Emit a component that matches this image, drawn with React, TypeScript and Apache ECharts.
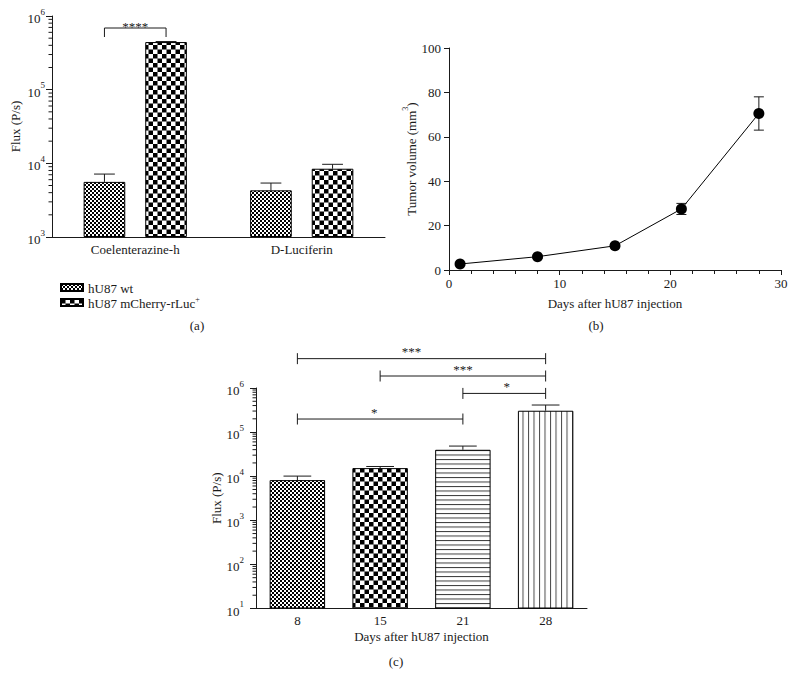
import React, { useEffect, useRef } from 'react';
import * as echarts from 'echarts';

const FONT = '"Liberation Serif", "Times New Roman", Times, serif';
const INK = '#1a1a1a';

// ---------- Panel (a)
const substrates = ['Coelenterazine-h', 'D-Luciferin'];
const seriesNamesA = ['hU87 wt', 'hU87 mCherry-rLuc+'];
const wtFlux = [5600, 4300];
const wtSem = [1550, 1100];
const rlucFlux = [443000, 8450];
const rlucSem = [7000, 1250];
const sigA: [number, number, string][] = [[0, 687000, '****']];
const decadesA = [3, 4, 5];

// ---------- Panel (b)
const daysB = [1, 8, 15, 21, 28];
const tumorVolume = [2.7, 6.0, 10.9, 27.5, 70.5];
const tumorSem = [0.5, 0.7, 0.9, 2.5, 7.5];

// ---------- Panel (c)
const daysC = ['8', '15', '21', '28'];
const fluxC = [8150, 15250, 39700, 305000];
const fluxSemC = [1900, 1350, 8500, 106000];
// [left bar, right bar, bracket level, star position (category units), label]
const sigC: [number, number, number, number, string][] = [
  [0, 3, 4630000, 1.38, '***'],
  [1, 3, 1870000, 2.0, '***'],
  [2, 3, 754000, 2.53, '*'],
  [0, 2, 198000, 0.93, '*'],
];
const decadesC = [1, 2, 3, 4, 5];

const minorMultipliers = [2, 3, 4, 5, 6, 7, 8, 9];

function pattern(w: number, h: number, draw: (ctx: CanvasRenderingContext2D) => void) {
  const S = 4;
  const c = document.createElement('canvas');
  c.width = Math.round(w * S);
  c.height = Math.round(h * S);
  const ctx = c.getContext('2d')!;
  ctx.fillStyle = '#fff';
  ctx.fillRect(0, 0, c.width, c.height);
  ctx.scale(S, S);
  ctx.fillStyle = '#000';
  draw(ctx);
  return { image: c, repeat: 'repeat', imageWidth: w, imageHeight: h } as any;
}

const supRich = {
  b: { fontFamily: FONT, fontSize: 13, color: INK, verticalAlign: 'bottom', lineHeight: 18 },
  s: { fontFamily: FONT, fontSize: 9, color: INK, verticalAlign: 'top', lineHeight: 18 },
};
const powLabel = (v: number) => `{b|10}{s|${Math.round(Math.log10(v))}}`;

const lineStyle = { stroke: INK, lineWidth: 1 };
const textStyle = (text: string) => ({
  text,
  fontFamily: FONT,
  fontSize: 13,
  fill: INK,
  stroke: 'none',
  lineWidth: 0,
  align: 'center',
  verticalAlign: 'middle',
});

export default function App() {
  const ref = useRef<HTMLDivElement>(null);
  useEffect(() => {
    if (!ref.current) return;
    const chart = echarts.init(ref.current, null, { renderer: 'svg' });

    const patFine = pattern(4, 4, (ctx) => {
      ctx.fillRect(0, 0, 2, 2);
      ctx.fillRect(2, 2, 2, 2);
    });
    const patCoarse = pattern(9, 9, (ctx) => {
      ctx.fillRect(0, 0, 4.5, 4.5);
      ctx.fillRect(4.5, 4.5, 4.5, 4.5);
    });
    const patH = pattern(4, 4.5, (ctx) => {
      ctx.fillStyle = '#222';
      ctx.fillRect(0, 0, 4, 1);
    });
    const patV = pattern(5.5, 4, (ctx) => {
      ctx.fillStyle = '#333';
      ctx.fillRect(0, 0, 1, 4);
    });

    const axisText = { fontFamily: FONT, fontSize: 13, color: INK };
    const axisLine = { show: true, lineStyle: { color: INK, width: 1 } };
    const inkItem = { color: INK };

    const minorTickSeries = (xi: number, decades: number[]) => ({
      type: 'custom',
      xAxisIndex: xi,
      yAxisIndex: xi,
      silent: true,
      colorBy: 'series',
      itemStyle: inkItem,
      data: decades.flatMap((k) => minorMultipliers.map((m) => [0, m * Math.pow(10, k)])),
      encode: { x: 0, y: 1 },
      renderItem: (params: any, api: any) => {
        const x0 = params.coordSys.x;
        const y = api.coord([0, api.value(1)])[1];
        return { type: 'line', shape: { x1: x0 - 3.5, y1: y, x2: x0, y2: y }, style: lineStyle };
      },
    });

    const groupedErr = (sign: number, means: number[], sems: number[]) => ({
      type: 'custom',
      xAxisIndex: 0,
      yAxisIndex: 0,
      z: 3,
      silent: true,
      colorBy: 'series',
      itemStyle: inkItem,
      data: means.map((m, i) => [i, m, sems[i]]),
      encode: { x: 0, y: 1 },
      renderItem: (params: any, api: any) => {
        const i = api.value(0);
        const m = api.value(1);
        const s = api.value(2);
        const p0 = api.coord([i, m]);
        const p1 = api.coord([i, m + s]);
        const band = Math.abs(api.coord([1, m])[0] - api.coord([0, m])[0]);
        const bw = band * 0.25;
        const x = p0[0] + (sign * bw * 1.48) / 2;
        const cap = bw * 0.25;
        return {
          type: 'group',
          children: [
            { type: 'line', shape: { x1: x, y1: p0[1], x2: x, y2: p1[1] }, style: lineStyle },
            { type: 'line', shape: { x1: x - cap, y1: p1[1], x2: x + cap, y2: p1[1] }, style: lineStyle },
          ],
        };
      },
    });

    const option: any = {
      animation: false,
      textStyle: { fontFamily: FONT },
      grid: [
        { left: 52, top: 16, width: 333, height: 221 },
        { left: 449, top: 48, width: 332, height: 222 },
        { left: 256, top: 388, width: 331, height: 220.5 },
      ],
      legend: {
        left: 55,
        top: 277,
        orient: 'vertical',
        itemWidth: 22,
        itemHeight: 7,
        itemGap: 0,
        icon: 'rect',
        data: seriesNamesA,
        selectedMode: false,
        formatter: (name: string) =>
          name.endsWith('+') ? `{t|${name.slice(0, -1)}}{s|+}` : `{t|${name}}`,
        textStyle: {
          rich: {
            t: { fontFamily: FONT, fontSize: 13, color: INK, lineHeight: 15, verticalAlign: 'bottom' },
            s: { fontFamily: FONT, fontSize: 8, color: INK, lineHeight: 15, verticalAlign: 'top' },
          },
        },
      },
      xAxis: [
        {
          gridIndex: 0,
          type: 'category',
          data: substrates,
          axisTick: { show: false },
          axisLine,
          axisLabel: { ...axisText, margin: 6 },
        },
        {
          gridIndex: 1,
          type: 'value',
          min: 0,
          max: 30,
          interval: 10,
          axisLine,
          axisTick: { show: true, length: 5, lineStyle: { color: INK } },
          minorTick: { show: true, splitNumber: 5, length: 4, lineStyle: { color: INK } },
          splitLine: { show: false },
          axisLabel: { ...axisText, margin: 7 },
          name: 'Days after hU87 injection',
          nameLocation: 'middle',
          nameGap: 27,
          nameTextStyle: axisText,
        },
        {
          gridIndex: 2,
          type: 'category',
          data: daysC,
          axisTick: { show: false },
          axisLine,
          axisLabel: { ...axisText, margin: 5 },
          name: 'Days after hU87 injection',
          nameLocation: 'middle',
          nameGap: 21,
          nameTextStyle: axisText,
        },
      ],
      yAxis: [
        {
          gridIndex: 0,
          type: 'log',
          logBase: 10,
          min: 1e3,
          max: 1e6,
          startValue: 1e3,
          axisLine,
          axisTick: { show: true, length: 6, lineStyle: { color: INK } },
          splitLine: { show: false },
          axisLabel: { formatter: powLabel, rich: supRich, margin: 7 },
          name: 'Flux (P/s)',
          nameLocation: 'middle',
          nameGap: 30,
          nameTextStyle: axisText,
        },
        {
          gridIndex: 1,
          type: 'value',
          min: 0,
          max: 100,
          interval: 20,
          axisLine,
          axisTick: { show: true, length: 5, lineStyle: { color: INK } },
          splitLine: { show: false },
          axisLabel: { ...axisText, margin: 8 },
          name: '{a|Tumor volume (mm}{s|3}{a|)}',
          nameLocation: 'middle',
          nameGap: 29,
          nameTextStyle: {
            ...axisText,
            rich: {
              a: { fontFamily: FONT, fontSize: 13, color: INK, lineHeight: 16, verticalAlign: 'bottom' },
              s: { fontFamily: FONT, fontSize: 8, color: INK, lineHeight: 16, verticalAlign: 'top' },
            },
          },
        },
        {
          gridIndex: 2,
          type: 'log',
          logBase: 10,
          min: 10,
          max: 1e6,
          startValue: 10,
          axisLine,
          axisTick: { show: true, length: 6, lineStyle: { color: INK } },
          splitLine: { show: false },
          axisLabel: { formatter: powLabel, rich: supRich, margin: 12 },
          name: 'Flux (P/s)',
          nameLocation: 'middle',
          nameGap: 33,
          nameTextStyle: axisText,
        },
      ],
      series: [
        // (a)
        {
          type: 'bar',
          name: seriesNamesA[0],
          xAxisIndex: 0,
          yAxisIndex: 0,
          data: wtFlux,
          barWidth: '25%',
          barGap: '48%',
          clip: true,
          itemStyle: { color: patFine, borderColor: '#000', borderWidth: 1 },
        },
        {
          type: 'bar',
          name: seriesNamesA[1],
          xAxisIndex: 0,
          yAxisIndex: 0,
          data: rlucFlux,
          barWidth: '25%',
          barGap: '48%',
          clip: true,
          itemStyle: { color: patCoarse, borderColor: '#000', borderWidth: 1 },
        },
        groupedErr(-1, wtFlux, wtSem),
        groupedErr(1, rlucFlux, rlucSem),
        minorTickSeries(0, decadesA),
        {
          type: 'custom',
          xAxisIndex: 0,
          yAxisIndex: 0,
          silent: true,
          colorBy: 'series',
          itemStyle: inkItem,
          data: sigA.map((s) => [s[0], s[1]]),
          encode: { x: 0, y: 1 },
          renderItem: (params: any, api: any) => {
            const c = api.value(0);
            const p = api.coord([c, api.value(1)]);
            const band = Math.abs(api.coord([1, api.value(1)])[0] - api.coord([0, api.value(1)])[0]);
            const off = (band * 0.25 * 1.48) / 2;
            const x1 = p[0] - off;
            const x2 = p[0] + off;
            const y = p[1];
            return {
              type: 'group',
              children: [
                { type: 'line', shape: { x1, y1: y, x2, y2: y }, style: lineStyle },
                { type: 'line', shape: { x1, y1: y, x2: x1, y2: y + 9 }, style: lineStyle },
                { type: 'line', shape: { x1: x2, y1: y, x2, y2: y + 9 }, style: lineStyle },
                { type: 'text', x: p[0], y: y - 2, style: textStyle(sigA[params.dataIndex][2]) },
              ],
            };
          },
        },
        // (b)
        {
          type: 'custom',
          xAxisIndex: 1,
          yAxisIndex: 1,
          z: 1,
          silent: true,
          colorBy: 'series',
          itemStyle: inkItem,
          data: daysB.map((d, i) => [d, tumorVolume[i], tumorSem[i]]),
          encode: { x: 0, y: 1 },
          renderItem: (params: any, api: any) => {
            const d = api.value(0);
            const m = api.value(1);
            const s = api.value(2);
            const lo = api.coord([d, m - s]);
            const hi = api.coord([d, m + s]);
            const cap = 5;
            return {
              type: 'group',
              children: [
                { type: 'line', shape: { x1: lo[0], y1: lo[1], x2: hi[0], y2: hi[1] }, style: lineStyle },
                { type: 'line', shape: { x1: hi[0] - cap, y1: hi[1], x2: hi[0] + cap, y2: hi[1] }, style: lineStyle },
                { type: 'line', shape: { x1: lo[0] - cap, y1: lo[1], x2: lo[0] + cap, y2: lo[1] }, style: lineStyle },
              ],
            };
          },
        },
        {
          type: 'line',
          xAxisIndex: 1,
          yAxisIndex: 1,
          z: 3,
          data: daysB.map((d, i) => [d, tumorVolume[i]]),
          symbol: 'circle',
          symbolSize: 11,
          itemStyle: { color: '#000' },
          lineStyle: { color: '#000', width: 1 },
        },
        // (c)
        {
          type: 'bar',
          xAxisIndex: 2,
          yAxisIndex: 2,
          barWidth: '67%',
          clip: true,
          data: fluxC.map((v, i) => ({
            value: v,
            itemStyle: { color: [patFine, patCoarse, patH, patV][i], borderColor: '#000', borderWidth: 1 },
          })),
        },
        {
          type: 'custom',
          xAxisIndex: 2,
          yAxisIndex: 2,
          z: 3,
          silent: true,
          colorBy: 'series',
          itemStyle: inkItem,
          data: fluxC.map((m, i) => [i, m, fluxSemC[i]]),
          encode: { x: 0, y: 1 },
          renderItem: (params: any, api: any) => {
            const i = api.value(0);
            const m = api.value(1);
            const s = api.value(2);
            const p0 = api.coord([i, m]);
            const p1 = api.coord([i, m + s]);
            const band = Math.abs(api.coord([1, m])[0] - api.coord([0, m])[0]);
            const cap = band * 0.67 * 0.25;
            return {
              type: 'group',
              children: [
                { type: 'line', shape: { x1: p0[0], y1: p0[1], x2: p0[0], y2: p1[1] }, style: lineStyle },
                { type: 'line', shape: { x1: p0[0] - cap, y1: p1[1], x2: p0[0] + cap, y2: p1[1] }, style: lineStyle },
              ],
            };
          },
        },
        minorTickSeries(2, decadesC),
        {
          type: 'custom',
          xAxisIndex: 2,
          yAxisIndex: 2,
          silent: true,
          colorBy: 'series',
          itemStyle: inkItem,
          data: sigC.map((s) => [s[0], s[2], s[1], s[3]]),
          encode: { x: 0, y: 1 },
          renderItem: (params: any, api: any) => {
            const row = sigC[params.dataIndex];
            const level = row[2];
            const pa = api.coord([row[0], level]);
            const pb = api.coord([row[1], level]);
            const c0 = api.coord([0, level])[0];
            const band = Math.abs(api.coord([1, level])[0] - c0);
            const sx = c0 + row[3] * band;
            const y = pa[1];
            return {
              type: 'group',
              children: [
                { type: 'line', shape: { x1: pa[0], y1: y, x2: pb[0], y2: y }, style: lineStyle },
                { type: 'line', shape: { x1: pa[0], y1: y - 5.5, x2: pa[0], y2: y + 5.5 }, style: lineStyle },
                { type: 'line', shape: { x1: pb[0], y1: y - 5.5, x2: pb[0], y2: y + 5.5 }, style: lineStyle },
                { type: 'text', x: sx, y: y - 7, style: textStyle(row[4]) },
              ],
            };
          },
        },
      ],
      graphic: [
        { text: '(a)', x: 197, y: 325 },
        { text: '(b)', x: 596, y: 325 },
        { text: '(c)', x: 396, y: 661 },
      ].map((g) => ({ type: 'text', x: g.x, y: g.y, style: textStyle(g.text) })),
    };

    chart.setOption(option);
    return () => chart.dispose();
  }, []);

  return (
    <div
      ref={ref}
      style={{ position: 'absolute', left: 0, top: 0, width: 796, height: 676, background: '#fff' }}
    />
  );
}
